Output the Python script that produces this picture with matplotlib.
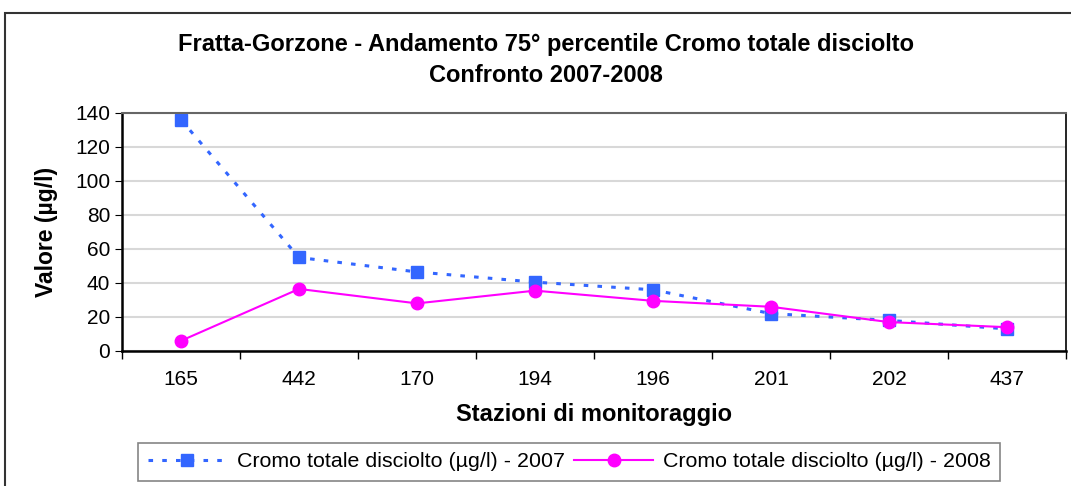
import numpy as np
import matplotlib.pyplot as plt
from matplotlib.patches import Rectangle

plt.rcParams['font.family'] = ['Liberation Sans', 'DejaVu Sans']

stations = ['165', '442', '170', '194', '196', '201', '202', '437']
cr_2007 = [136, 55, 46.5, 40.5, 36, 22, 18, 13]
cr_2008 = [6, 36.5, 28, 35.5, 29.5, 26, 17, 14]

blue = '#3366FF'
magenta = '#FF00FF'

fig = plt.figure(figsize=(10.71, 4.86), dpi=100)
ax = fig.add_axes([0.1139, 0.2778, 0.8814, 0.4897])

x = np.arange(len(stations))
ax.plot(x, cr_2007, color=blue, linestyle=(0, (1.5, 3)), linewidth=2.2,
        marker='s', markersize=8, label='Cromo totale disciolto (µg/l) - 2007')
ax.plot(x, cr_2008, color=magenta, linestyle='-', linewidth=1.5,
        marker='o', markersize=9, label='Cromo totale disciolto (µg/l) - 2008')

ax.set_xlim(-0.5, len(stations) - 0.5)
ax.set_ylim(0, 140)
ax.set_yticks(np.arange(0, 141, 20))
ax.set_xticks(x)
ax.set_xticklabels(stations, fontsize=15)
ax.set_xticks(np.arange(-0.5, len(stations), 1), minor=True)
ax.tick_params(axis='x', which='major', length=0, pad=14)
ax.tick_params(axis='x', which='minor', length=6, width=1, direction='out')
ax.tick_params(axis='y', labelsize=15, length=5, direction='out')
ax.yaxis.grid(True, color='#D8D8D8', linewidth=1.5)
ax.set_axisbelow(True)
for s in ['left', 'bottom']:
    ax.spines[s].set_linewidth(1.8)
    ax.spines[s].set_color('black')
ax.spines['top'].set_color('#666666')
ax.spines['top'].set_linewidth(1.5)
ax.spines['right'].set_linewidth(1.2)

ax.set_xlabel('Stazioni di monitoraggio', fontsize=17, fontweight='bold', labelpad=10)
ax.set_ylabel('Valore (µg/l)', fontsize=16.5, fontweight='bold', labelpad=12)

fig.text(0.51, 0.909, 'Fratta-Gorzone - Andamento 75° percentile Cromo totale disciolto',
         ha='center', va='center', fontsize=17, fontweight='bold')
fig.text(0.51, 0.845, 'Confronto 2007-2008', ha='center', va='center',
         fontsize=17, fontweight='bold')

fig.patches.append(Rectangle((0.005, -0.2), 1.2, 1.173, transform=fig.transFigure,
                             fill=False, edgecolor='#333333', linewidth=1.5))

leg = fig.legend(loc='upper left', bbox_to_anchor=(0.129, 0.089), ncol=2,
                 fontsize=15.4, frameon=True, fancybox=False, edgecolor='#666666',
                 handlelength=3.7, columnspacing=0.45, handletextpad=0.45,
                 borderaxespad=0, borderpad=0.45)
leg.get_frame().set_linewidth(1.2)

fig.savefig('out.png', dpi=100)
